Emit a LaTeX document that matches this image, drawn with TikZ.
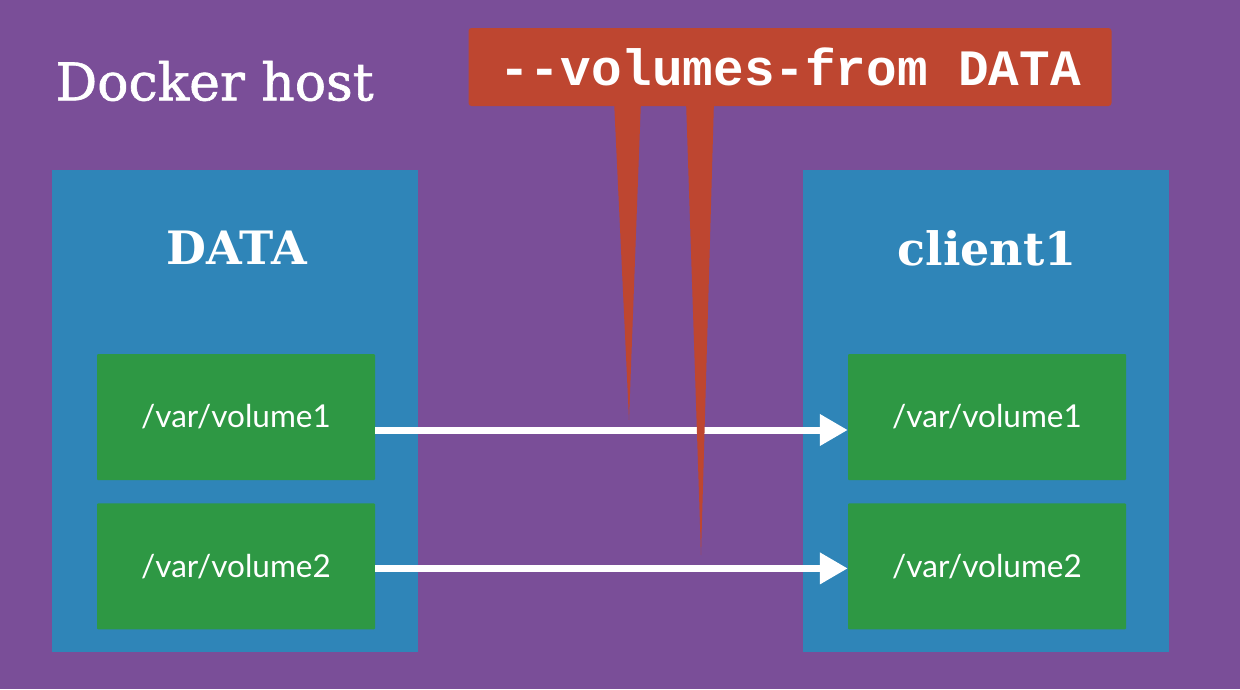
\documentclass[tikz,border=0pt]{standalone}
\usepackage{fontspec}
\usetikzlibrary{arrows.meta,positioning}
\newfontfamily\slabfont{DejaVu Serif}
\newfontfamily\hostfont[FakeBold=1.2]{DejaVu Serif}
\newfontfamily\pathfont{Lato}
\newfontfamily\cmdfont{Liberation Mono}
\definecolor{hostpurple}{RGB}{122,78,152}
\definecolor{boxblue}{RGB}{47,133,184}
\definecolor{volgreen}{RGB}{46,152,68}
\definecolor{flagred}{RGB}{190,70,48}
\tikzset{
  container/.style={
    fill=boxblue,
    minimum width=366pt,
    minimum height=482pt,
    inner sep=0pt,
  },
  volume box/.style={
    fill=volgreen,
    rounded corners=1pt,
    minimum width=278pt,
    minimum height=126pt,
    inner sep=0pt,
    text=white,
    font=\pathfont\fontsize{31.5}{34}\selectfont,
  },
  box title/.style={
    text=white,
    font=\slabfont\bfseries\fontsize{46}{50}\selectfont,
  },
  mount/.style={
    draw=white,
    line width=7pt,
    -{Triangle[length=28pt,width=30pt]},
  }
}

\begin{document}
\begin{tikzpicture}[x=1pt,y=-1pt]
        \fill [hostpurple] (0,0) rectangle (1240,689);
        \useasboundingbox (0,0) rectangle (1240,689);

        \node [text=white, anchor=west, font=\hostfont\fontsize{52}{56}\selectfont] (host) at (52,81) {Docker host};

        \node [container] (data) at (235,411) {};
        \node [container] (client) at (986,411) {};
        \node [box title] (datatitle) at (237,248) {DATA};
        \node [box title] (clienttitle) at (987,248) {client1};

        \node [volume box] (dvol1) at (236,417) {/var/volume1};
        \node [volume box, below=23pt of dvol1] (dvol2) {/var/volume2};
        \node [volume box] (cvol1) at (987,417) {/var/volume1};
        \node [volume box, below=23pt of cvol1] (cvol2) {/var/volume2};

        \draw [mount] ([yshift=-13pt]dvol1.east) -- ([yshift=-13pt]cvol1.west);
        \draw [mount] ([yshift=-2pt]dvol2.east) -- ([yshift=-2pt]cvol2.west);

        \fill [flagred] (614,100) -- (629,420) -- (641,100) -- cycle;
        \fill [flagred] (686,100) -- (701,555) -- (714,100) -- cycle;
        \node [fill=flagred, rounded corners=3pt, minimum width=643pt, minimum height=78pt,
          text=white, font=\cmdfont\bfseries\fontsize{51}{54}\selectfont] (flag) at (790,67) {-{}-volumes-from DATA};
    \end{tikzpicture}
\end{document}
